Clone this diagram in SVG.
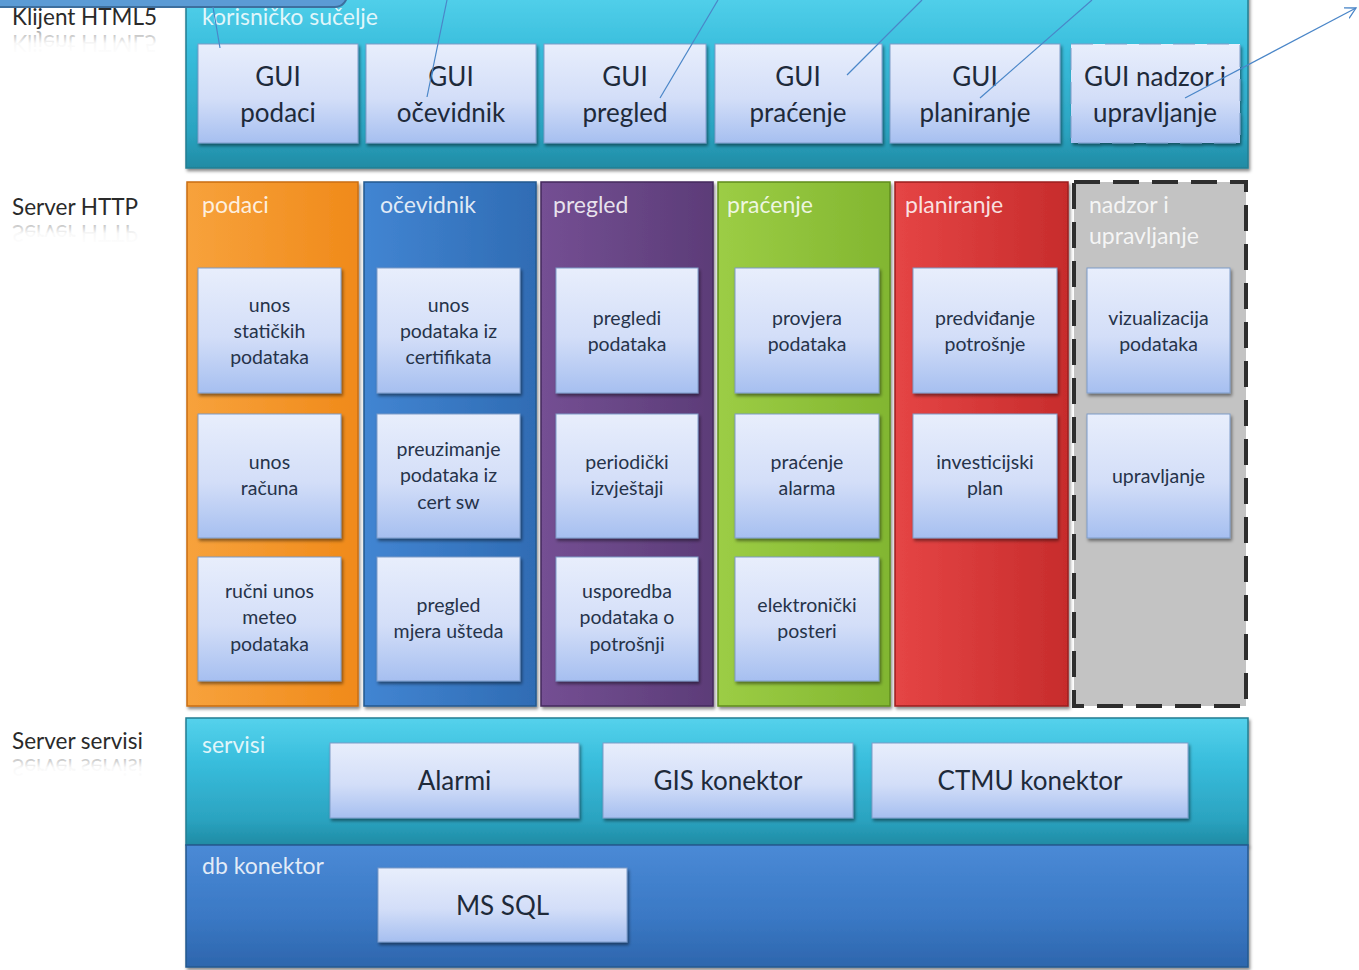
<svg xmlns="http://www.w3.org/2000/svg" width="1359" height="970" viewBox="0 0 1359 970">
<defs>
<linearGradient id="gTeal" x1="0" y1="0" x2="0" y2="1"><stop offset="0" stop-color="#55d2ec"/><stop offset="0.35" stop-color="#38bddc"/><stop offset="0.8" stop-color="#2ba3c0"/><stop offset="1" stop-color="#1f8ba4"/></linearGradient>
<linearGradient id="gDb" x1="0" y1="0" x2="0" y2="1"><stop offset="0" stop-color="#4a8ad6"/><stop offset="0.6" stop-color="#3a78c4"/><stop offset="1" stop-color="#2d66ad"/></linearGradient>
<linearGradient id="gBox" x1="0" y1="0" x2="0" y2="1"><stop offset="0" stop-color="#e8eefc"/><stop offset="0.55" stop-color="#d3def8"/><stop offset="1" stop-color="#a6bff0"/></linearGradient>
<linearGradient id="gOr" x1="0" y1="0" x2="1" y2="0"><stop offset="0" stop-color="#f7a23c"/><stop offset="1" stop-color="#f08a1a"/></linearGradient>
<linearGradient id="gBl" x1="0" y1="0" x2="1" y2="0"><stop offset="0" stop-color="#4285d2"/><stop offset="1" stop-color="#2f6cb4"/></linearGradient>
<linearGradient id="gPu" x1="0" y1="0" x2="1" y2="0"><stop offset="0" stop-color="#744f93"/><stop offset="1" stop-color="#5c3c78"/></linearGradient>
<linearGradient id="gGr" x1="0" y1="0" x2="1" y2="0"><stop offset="0" stop-color="#9ccd45"/><stop offset="1" stop-color="#82b630"/></linearGradient>
<linearGradient id="gRe" x1="0" y1="0" x2="1" y2="0"><stop offset="0" stop-color="#e54545"/><stop offset="1" stop-color="#c72c2c"/></linearGradient>
<linearGradient id="gRefl" x1="0" y1="0" x2="0" y2="1"><stop offset="0" stop-color="#555" stop-opacity="0"/><stop offset="0.5" stop-color="#555" stop-opacity="0.04"/><stop offset="1" stop-color="#555" stop-opacity="0.5"/></linearGradient>
<filter id="sh" x="-10%" y="-10%" width="125%" height="130%"><feDropShadow dx="1.5" dy="2.5" stdDeviation="1.5" flood-color="#000" flood-opacity="0.45"/></filter>
<marker id="arr" markerWidth="14" markerHeight="14" refX="11" refY="6" orient="auto" markerUnits="userSpaceOnUse"><path d="M0,0 L11,6 L0,12" fill="none" stroke="#4a86c8" stroke-width="1.3"/></marker>
</defs>
<style>
text{font-family:Lato,"Open Sans","Liberation Sans",sans-serif}
.side{font-size:22.5px;fill:#2a2a2a}
.refl{font-size:22.5px;fill:url(#gRefl)}
.plab{font-size:23px;fill:#ffffff;fill-opacity:0.85}
.box{fill:url(#gBox);stroke:#7f9cc8;stroke-width:1;filter:url(#sh)}
.big{font-size:26px;fill:#1e2a3a;text-anchor:middle}
.sm{font-size:19.5px;fill:#26334a;text-anchor:middle}
.col{stroke-width:1.5;filter:url(#sh)}
.conn{stroke:#4a86c8;stroke-width:1.2;fill:none}
</style>
<rect width="1359" height="970" fill="#ffffff"/>

<g id="labels">
<text class="side" x="12" y="25">Klijent HTML5</text>
<text class="refl" x="12" y="25" transform="translate(0,60) scale(1,-1)">Klijent HTML5</text>
<text class="side" x="12" y="215">Server HTTP</text>
<text class="refl" x="12" y="215" transform="translate(0,440) scale(1,-1)">Server HTTP</text>
<text class="side" x="12" y="749">Server servisi</text>
<text class="refl" x="12" y="749" transform="translate(0,1508) scale(1,-1)">Server servisi</text>
</g>

<g id="korisnicko-sucelje">
<rect x="186" y="-10" width="1062" height="178" fill="url(#gTeal)" stroke="#237e92" stroke-width="1.5" filter="url(#sh)"/>
<text class="plab" x="202" y="25">korisničko sučelje</text>
</g>
<g id="callout"><rect x="-20" y="-30" width="367" height="37" rx="12" fill="#5b9bd5" stroke="#3d6f9e" stroke-width="2"/></g>
<g id="gui-podaci"><rect class="box" x="198" y="44" width="160" height="99"/><text class="big" x="278" y="86">GUI</text><text class="big" x="278" y="122">podaci</text></g>
<g id="gui-ocevidnik"><rect class="box" x="366" y="44" width="170" height="99"/><text class="big" x="451" y="86">GUI</text><text class="big" x="451" y="122">očevidnik</text></g>
<g id="gui-pregled"><rect class="box" x="544" y="44" width="162" height="99"/><text class="big" x="625" y="86">GUI</text><text class="big" x="625" y="122">pregled</text></g>
<g id="gui-pracenje"><rect class="box" x="715" y="44" width="167" height="99"/><text class="big" x="798" y="86">GUI</text><text class="big" x="798" y="122">praćenje</text></g>
<g id="gui-planiranje"><rect class="box" x="890" y="44" width="170" height="99"/><text class="big" x="975" y="86">GUI</text><text class="big" x="975" y="122">planiranje</text></g>
<g id="gui-nadzor"><rect class="box" x="1071" y="44" width="169" height="99" stroke="#3a6f9f" stroke-width="3" stroke-dasharray="22 12"/><text class="big" x="1155" y="86">GUI nadzor i</text><text class="big" x="1155" y="122">upravljanje</text></g>

<g id="col-podaci">
<rect class="col" x="187" y="182" width="171" height="524" fill="url(#gOr)" stroke="#c96e10"/>
<text class="plab" x="202" y="213">podaci</text>
<rect class="box" x="198" y="268" width="143" height="125"/><text class="sm" x="269.5" y="312">unos</text><text class="sm" x="269.5" y="338">statičkih</text><text class="sm" x="269.5" y="364">podataka</text>
<rect class="box" x="198" y="414" width="143" height="124"/><text class="sm" x="269.5" y="469">unos</text><text class="sm" x="269.5" y="495">računa</text>
<rect class="box" x="198" y="557" width="143" height="124"/><text class="sm" x="269.5" y="598">ručni unos</text><text class="sm" x="269.5" y="624">meteo</text><text class="sm" x="269.5" y="651">podataka</text>
</g>
<g id="col-ocevidnik">
<rect class="col" x="364" y="182" width="172" height="524" fill="url(#gBl)" stroke="#24588f"/>
<text class="plab" x="380" y="213">očevidnik</text>
<rect class="box" x="377" y="268" width="143" height="125"/><text class="sm" x="448.5" y="312">unos</text><text class="sm" x="448.5" y="338">podataka iz</text><text class="sm" x="448.5" y="364">certifikata</text>
<rect class="box" x="377" y="414" width="143" height="124"/><text class="sm" x="448.5" y="456">preuzimanje</text><text class="sm" x="448.5" y="482">podataka iz</text><text class="sm" x="448.5" y="509">cert sw</text>
<rect class="box" x="377" y="557" width="143" height="124"/><text class="sm" x="448.5" y="612">pregled</text><text class="sm" x="448.5" y="638">mjera ušteda</text>
</g>
<g id="col-pregled">
<rect class="col" x="541" y="182" width="172" height="524" fill="url(#gPu)" stroke="#442a5c"/>
<text class="plab" x="553" y="213">pregled</text>
<rect class="box" x="556" y="268" width="142" height="125"/><text class="sm" x="627" y="325">pregledi</text><text class="sm" x="627" y="351">podataka</text>
<rect class="box" x="556" y="414" width="142" height="124"/><text class="sm" x="627" y="469">periodički</text><text class="sm" x="627" y="495">izvještaji</text>
<rect class="box" x="556" y="557" width="142" height="124"/><text class="sm" x="627" y="598">usporedba</text><text class="sm" x="627" y="624">podataka o</text><text class="sm" x="627" y="651">potrošnji</text>
</g>
<g id="col-pracenje">
<rect class="col" x="718" y="182" width="172" height="524" fill="url(#gGr)" stroke="#5f8c1e"/>
<text class="plab" x="727" y="213">praćenje</text>
<rect class="box" x="735" y="268" width="144" height="125"/><text class="sm" x="807" y="325">provjera</text><text class="sm" x="807" y="351">podataka</text>
<rect class="box" x="735" y="414" width="144" height="124"/><text class="sm" x="807" y="469">praćenje</text><text class="sm" x="807" y="495">alarma</text>
<rect class="box" x="735" y="557" width="144" height="124"/><text class="sm" x="807" y="612">elektronički</text><text class="sm" x="807" y="638">posteri</text>
</g>
<g id="col-planiranje">
<rect class="col" x="895" y="182" width="173" height="524" fill="url(#gRe)" stroke="#9a1f1f"/>
<text class="plab" x="905" y="213">planiranje</text>
<rect class="box" x="913" y="268" width="144" height="125"/><text class="sm" x="985" y="325">predviđanje</text><text class="sm" x="985" y="351">potrošnje</text>
<rect class="box" x="913" y="414" width="144" height="124"/><text class="sm" x="985" y="469">investicijski</text><text class="sm" x="985" y="495">plan</text>
</g>
<g id="col-nadzor">
<rect x="1074" y="182" width="172" height="524" fill="#c3c3c3" stroke="#2e2e2e" stroke-width="4" stroke-dasharray="26 13"/>
<text class="plab" x="1089" y="213">nadzor i</text>
<text class="plab" x="1089" y="244">upravljanje</text>
<rect class="box" x="1087" y="268" width="143" height="125"/><text class="sm" x="1158.5" y="325">vizualizacija</text><text class="sm" x="1158.5" y="351">podataka</text>
<rect class="box" x="1087" y="414" width="143" height="124"/><text class="sm" x="1158.5" y="483">upravljanje</text>
</g>

<g id="servisi">
<rect x="186" y="718" width="1062" height="127" fill="url(#gTeal)" stroke="#237e92" stroke-width="1.5" filter="url(#sh)"/>
<text class="plab" x="202" y="753">servisi</text>
</g>
<g id="alarmi"><rect class="box" x="330" y="743" width="249" height="75"/><text class="big" x="454.5" y="790">Alarmi</text></g>
<g id="gis"><rect class="box" x="603" y="743" width="250" height="75"/><text class="big" x="728" y="790">GIS konektor</text></g>
<g id="ctmu"><rect class="box" x="872" y="743" width="316" height="75"/><text class="big" x="1030" y="790">CTMU konektor</text></g>

<g id="db-konektor">
<rect x="186" y="845" width="1062" height="122" fill="url(#gDb)" stroke="#24588f" stroke-width="1.5" filter="url(#sh)"/>
<text class="plab" x="202" y="874">db konektor</text>
</g>
<g id="mssql"><rect class="box" x="378" y="868" width="249" height="74"/><text class="big" x="502.5" y="915">MS SQL</text></g>

<g id="connectors">
<line class="conn" x1="220" y1="48" x2="213" y2="7"/>
<line class="conn" x1="427" y1="97" x2="447" y2="0"/>
<line class="conn" x1="660" y1="98" x2="718" y2="0"/>
<line class="conn" x1="847" y1="75" x2="922" y2="0"/>
<line class="conn" x1="980" y1="98" x2="1092" y2="0"/>
<line class="conn" x1="1185" y1="98" x2="1356" y2="8" marker-end="url(#arr)"/>
</g>
</svg>
